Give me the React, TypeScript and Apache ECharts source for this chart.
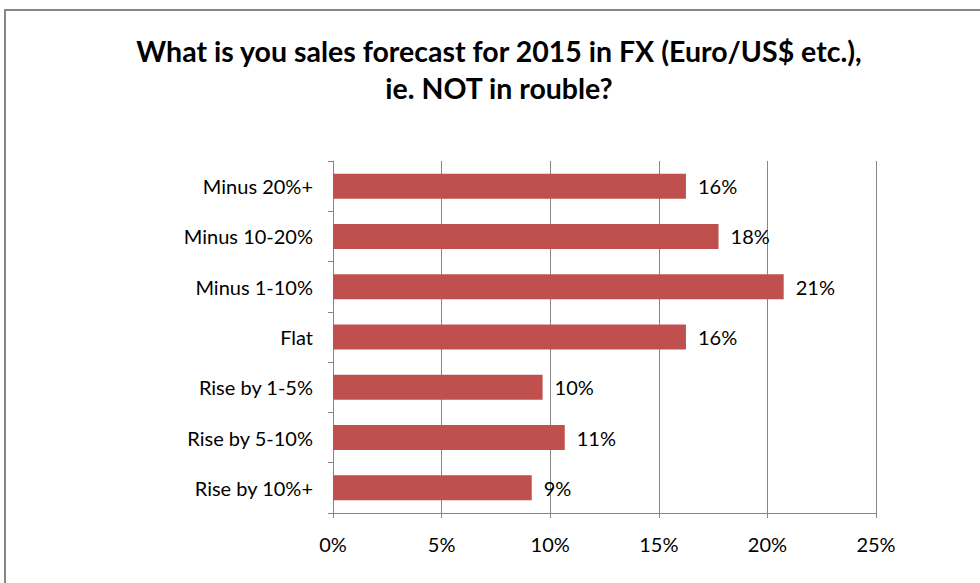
import React, { useEffect, useRef } from "react";
import * as echarts from "echarts";

const categories = [
  "Minus 20%+",
  "Minus 10-20%",
  "Minus 1-10%",
  "Flat",
  "Rise by 1-5%",
  "Rise by 5-10%",
  "Rise by 10%+",
];
const values = [0.1625, 0.1775, 0.2075, 0.1625, 0.0965, 0.1067, 0.0915];
const titleLines = [
  "What is you sales forecast for 2015 in FX (Euro/US$ etc.),",
  "ie. NOT in rouble?",
];

const FONT = "Lato, 'Open Sans', sans-serif";

export default function App() {
  const ref = useRef<HTMLDivElement>(null);
  useEffect(() => {
    if (!ref.current) return;
    const chart = echarts.init(ref.current, null, { renderer: "svg" });
    chart.setOption({
      animation: false,
      backgroundColor: "#ffffff",
      title: {
        text: titleLines.join("\n"),
        left: 494,
        textAlign: "center",
        top: 27,
        textStyle: {
          fontFamily: FONT,
          fontWeight: "bold",
          fontSize: 28.5,
          lineHeight: 37,
          color: "#000000",
        },
      },
      graphic: [
        {
          type: "rect",
          shape: { x: 5, y: 10, width: 1000, height: 600 },
          style: { fill: "none", stroke: "#868686", lineWidth: 2 },
          silent: true,
          z: -1,
        },
      ],
      grid: { left: 333, right: 104, top: 161, bottom: 70 },
      xAxis: {
        type: "value",
        min: 0,
        max: 0.25,
        interval: 0.05,
        axisLine: { show: true, lineStyle: { color: "#868686", width: 1 } },
        axisTick: { show: true, length: 5, lineStyle: { color: "#868686" } },
        splitLine: { show: true, lineStyle: { color: "#868686", width: 1 } },
        axisLabel: {
          formatter: (v: number) => Math.round(v * 100) + "%",
          fontFamily: FONT,
          fontSize: 20,
          color: "#000000",
          margin: 21,
        },
      },
      yAxis: {
        type: "category",
        inverse: true,
        data: categories,
        axisLine: { show: true, lineStyle: { color: "#868686", width: 1 } },
        axisTick: { show: true, length: 5, lineStyle: { color: "#868686" } },
        axisLabel: {
          fontFamily: FONT,
          fontSize: 20,
          color: "#000000",
          margin: 20,
        },
      },
      series: [
        {
          type: "bar",
          data: values,
          barWidth: 25,
          itemStyle: { color: "#C0504D" },
          label: {
            show: true,
            position: "right",
            distance: 12,
            formatter: (p: any) => Math.round(p.value * 100) + "%",
            fontFamily: FONT,
            fontSize: 20,
            color: "#000000",
          },
        },
      ],
    });
    return () => chart.dispose();
  }, []);
  return (
    <div
      ref={ref}
      style={{ position: "fixed", left: 0, top: 0, width: 980, height: 583 }}
    />
  );
}
